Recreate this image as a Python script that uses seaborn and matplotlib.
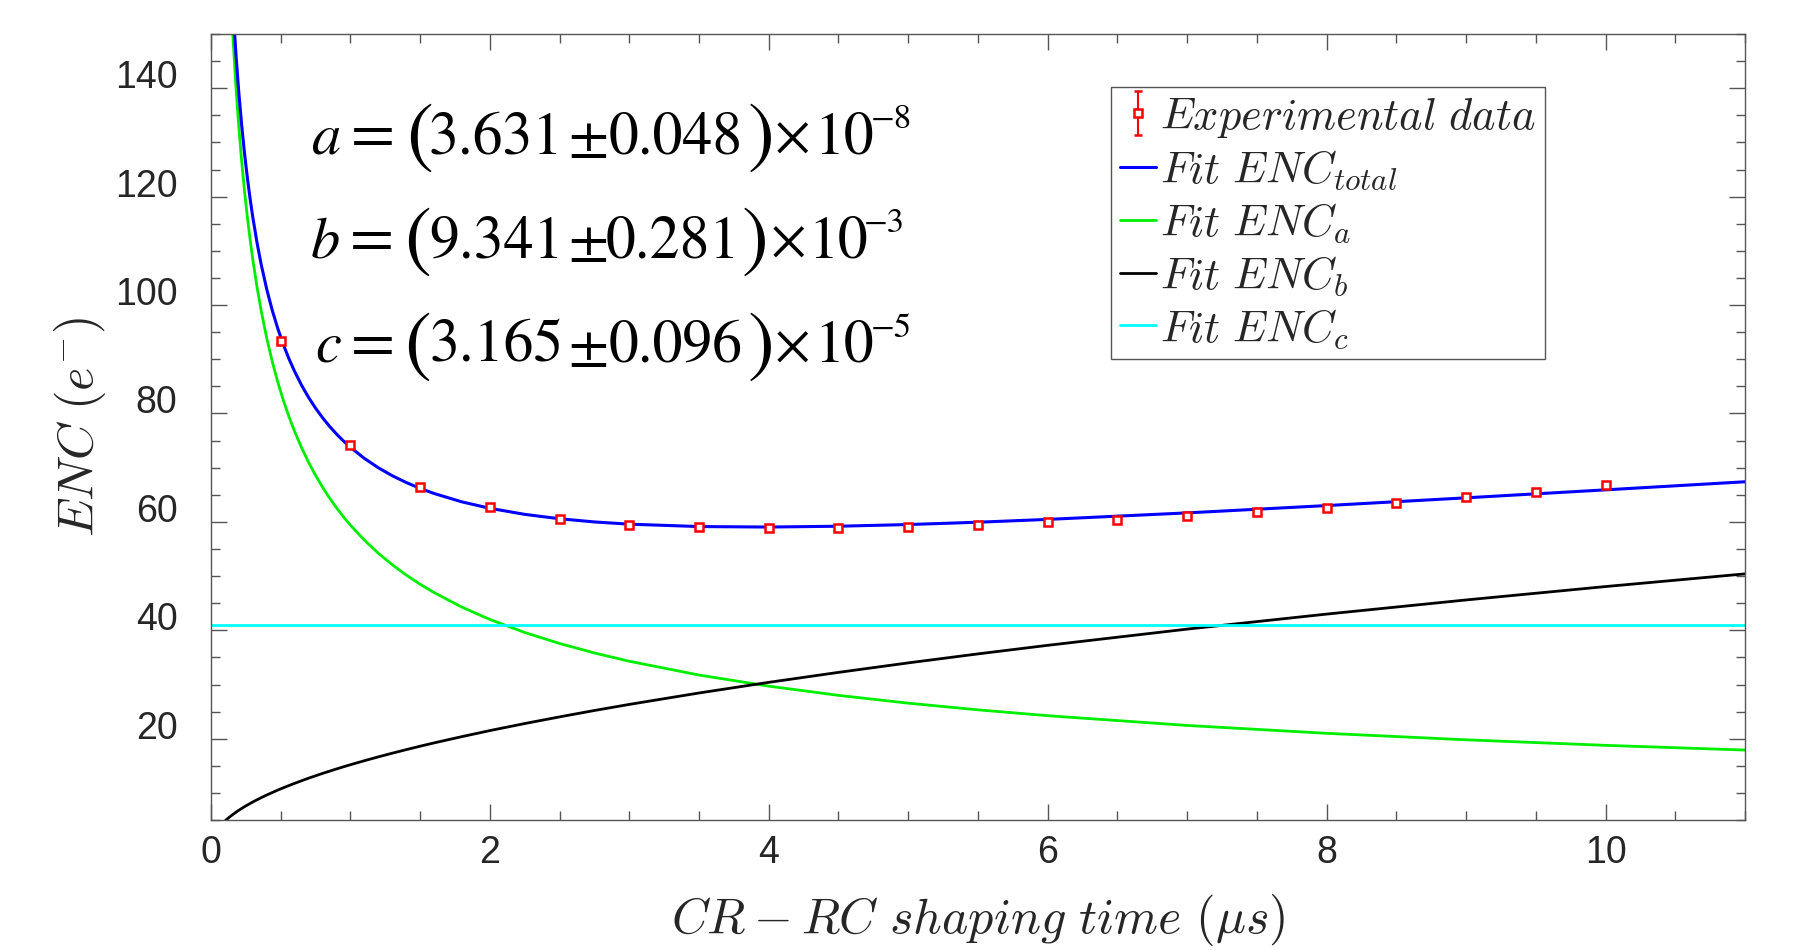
import numpy as np
import pandas as pd
import matplotlib
matplotlib.use("Agg")
import matplotlib.pyplot as plt
import seaborn as sns
from matplotlib.ticker import MultipleLocator
from matplotlib.lines import Line2D

# experimental points (shaping time in us, ENC in e-)
t_exp = [0.5, 1.0, 1.5, 2.0, 2.5, 3.0, 3.5, 4.0, 4.5, 5.0,
         5.5, 6.0, 6.5, 7.0, 7.5, 8.0, 8.5, 9.0, 9.5, 10.0]
enc_exp = [93.4, 74.2, 66.4, 62.7, 60.6, 59.5, 59.0, 58.9, 58.9, 59.0,
           59.4, 59.9, 60.4, 61.0, 61.8, 62.6, 63.5, 64.5, 65.6, 66.8]
enc_err = [0.6, 0.5, 0.5, 0.5, 0.5, 0.5, 0.5, 0.5, 0.5, 0.5,
           0.5, 0.5, 0.5, 0.5, 0.5, 0.5, 0.5, 0.5, 0.5, 0.5]

# fit curves
t_fit = [0.10, 0.11, 0.12, 0.13, 0.14, 0.15, 0.16, 0.18, 0.20, 0.22, 0.24, 0.26, 0.28,
         0.30, 0.33, 0.36, 0.40, 0.44, 0.48, 0.52, 0.56, 0.60, 0.65, 0.70, 0.75, 0.80,
         0.85, 0.90, 0.95, 1.00, 1.10, 1.20, 1.30, 1.40, 1.50, 1.60, 1.80, 2.00, 2.25,
         2.50, 2.75, 3.00, 3.50, 4.00, 4.50, 5.0, 5.5, 6.0, 7.0, 8.0, 9.0, 10.0, 11.0]
enc_total = [192.32, 183.80, 176.39, 169.86, 164.06, 158.87, 154.18, 146.03, 139.17, 133.30,
             128.21, 123.74, 119.78, 116.24, 111.58, 107.54, 102.93, 99.00, 95.62, 92.66,
             90.06, 87.76, 85.20, 82.97, 80.99, 79.23, 77.64, 76.22, 74.93, 73.76, 71.72,
             69.99, 68.52, 67.27, 66.18, 65.24, 63.69, 62.51, 61.39, 60.58, 59.99, 59.58,
             59.14, 59.05, 59.20, 59.51, 59.94, 60.46, 61.66, 63.01, 64.44, 65.91, 67.40]
enc_a = [187.84, 179.10, 171.47, 164.75, 158.75, 153.37, 148.50, 140.01, 132.82, 126.64,
         121.25, 116.49, 112.26, 108.45, 103.40, 99.00, 93.92, 89.55, 85.74, 82.37,
         79.38, 76.69, 73.68, 71.00, 68.59, 66.41, 64.43, 62.61, 60.94, 59.40, 56.64,
         54.22, 52.10, 50.20, 48.50, 46.96, 44.27, 42.00, 39.60, 37.57, 35.82, 34.29,
         31.75, 29.70, 28.00, 26.56, 25.33, 24.25, 22.45, 21.00, 19.80, 18.78, 17.91]
enc_b = [4.81, 5.04, 5.27, 5.48, 5.69, 5.89, 6.08, 6.45, 6.80, 7.13,
         7.45, 7.75, 8.04, 8.33, 8.73, 9.12, 9.61, 10.08, 10.53, 10.96,
         11.37, 11.77, 12.25, 12.72, 13.16, 13.60, 14.01, 14.42, 14.82, 15.20, 15.94,
         16.65, 17.33, 17.98, 18.62, 19.23, 20.39, 21.50, 22.80, 24.03, 25.21, 26.33,
         28.44, 30.40, 32.24, 33.99, 35.65, 37.23, 40.22, 42.99, 45.60, 48.07, 50.41]
t_c = [0.0, 11.0]
enc_c = [41.0, 41.0]

labels = [r"$Experimental\ data$", r"$Fit\ ENC_{total}$", r"$Fit\ ENC_a$",
          r"$Fit\ ENC_b$", r"$Fit\ ENC_c$"]

# fit parameters shown on the plot
par_name = ["a", "b", "c"]
par_val = ["3.631", "9.341", "3.165"]
par_err = ["0.048", "0.281", "0.096"]
par_exp = ["\u22128", "\u22123", "\u22125"]

sns.set_theme(style="ticks")
plt.rcParams["font.family"] = ["Liberation Sans", "DejaVu Sans"]
plt.rcParams["mathtext.fontset"] = "cm"

W, H = 1809, 950
fig, ax = plt.subplots(figsize=(W / 100, H / 100), dpi=100)
fig.subplots_adjust(left=0.1166, right=0.9646, top=0.9642, bottom=0.1368)

df = pd.DataFrame({"t": t_fit, "total": enc_total, "a": enc_a, "b": enc_b})
sns.lineplot(data=df, x="t", y="a", color="#00ee00", lw=2.0, ax=ax, sort=False, estimator=None)
sns.lineplot(data=df, x="t", y="b", color="black", lw=2.0, ax=ax, sort=False, estimator=None)
sns.lineplot(x=t_c, y=enc_c, color="#00ffff", lw=2.0, ax=ax, estimator=None)
sns.lineplot(data=df, x="t", y="total", color="#0000ff", lw=2.2, ax=ax, sort=False, estimator=None)

eb = ax.errorbar(t_exp, enc_exp, yerr=enc_err, fmt="s", ms=6, mfc="white", mec="red",
                 mew=1.8, ecolor="red", elinewidth=1.5, capsize=3, zorder=5)

handles = [eb,
           Line2D([], [], color="#0000ff", lw=2.2),
           Line2D([], [], color="#00ee00", lw=2.0),
           Line2D([], [], color="black", lw=2.0),
           Line2D([], [], color="#00ffff", lw=2.0)]
leg = ax.legend(handles, labels, loc="upper left", bbox_to_anchor=(0.587, 0.933),
                fontsize=32, frameon=True, fancybox=False, framealpha=1,
                edgecolor="#555555", handlelength=0.8, handletextpad=0.1,
                labelspacing=0.2, borderaxespad=0, borderpad=0.2)
leg.get_frame().set_linewidth(1.0)

# parameter text, placed piece by piece (pixel centres, top-left origin)
serif = "STIXGeneral"
base_y = [153, 257, 362]
cx = [[327, 373, 419, 496, 588, 676, 761, 792, 844, 891],
      [325, 372, 417, 496, 588, 673, 755, 788, 838, 884],
      [328, 373, 417, 497, 588, 676, 761, 792, 844, 891]]


def put(x, y, s, size, style="normal"):
    fig.text(x / W, 1 - y / H, s, fontsize=size, family=serif, style=style,
             ha="center", va="baseline", color="black")


for i in range(3):
    y = base_y[i]
    p = cx[i]
    put(p[0], y, par_name[i], 42, "italic")
    put(p[1], y, "=", 46)
    put(p[2], y + 5, "(", 58)
    put(p[3], y, par_val[i], 43)
    put(p[4], y, "\u00b1", 42)
    put(p[5], y, par_err[i], 43)
    put(p[6], y + 5, ")", 58)
    put(p[7], y, "\u00d7", 40)
    put(p[8], y, "10", 43)
    put(p[9], y - 25, par_exp[i], 25)

ax.set_xlim(0, 11)
ax.set_ylim(5, 150)
ax.xaxis.set_major_locator(MultipleLocator(2))
ax.xaxis.set_minor_locator(MultipleLocator(0.5))
ax.set_yticks([20, 40, 60, 80, 100, 120, 140])
ax.yaxis.set_minor_locator(MultipleLocator(5))

ax.tick_params(which="both", direction="in", top=True, right=True, color="#555555",
               labelcolor="#262626", labelsize=27)
ax.tick_params(which="major", length=11.5, width=1.0)
ax.tick_params(which="minor", length=6.5, width=1.0)
ax.tick_params(axis="y", which="major", pad=24)
ax.tick_params(axis="x", which="major", pad=11)
for lab in ax.get_yticklabels():
    lab.set_va("baseline")
for sp in ax.spines.values():
    sp.set_color("#555555")
    sp.set_linewidth(1.0)

ax.set_xlabel(r"$CR-RC\ shaping\ time\ (\mu s)$", fontsize=36)
ax.set_ylabel(r"$ENC\ (e^{-})$", fontsize=36)
ax.xaxis.set_label_coords(0.5, -0.092)
ax.yaxis.set_label_coords(-0.067, 0.5)

plt.savefig("out.png", dpi=100)
plt.close()
